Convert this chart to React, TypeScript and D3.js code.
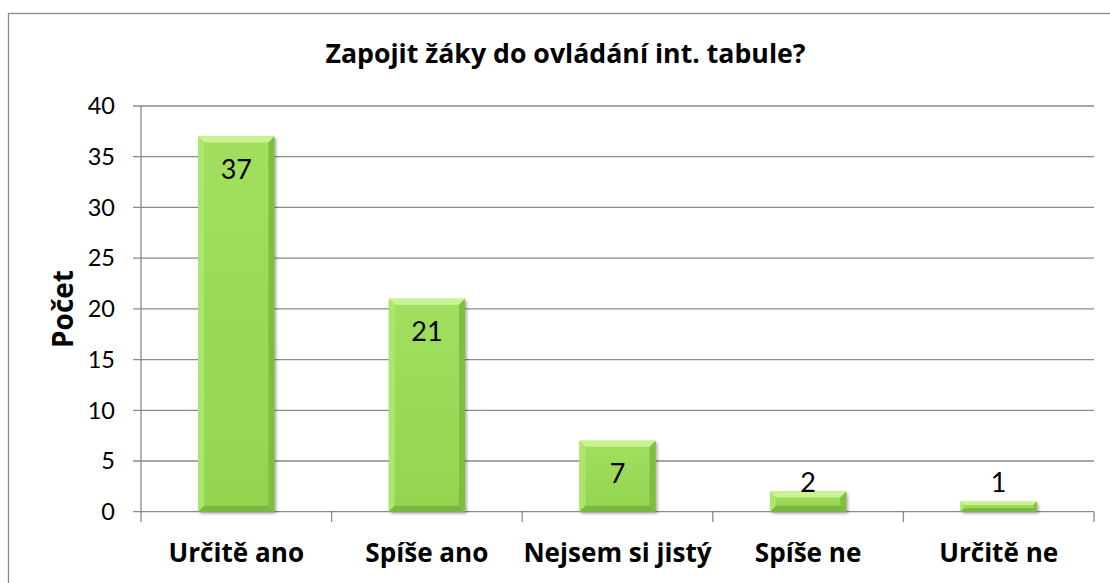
import React from "react";
import * as d3 from "d3";

const categories = ["Určitě ano", "Spíše ano", "Nejsem si jistý", "Spíše ne", "Určitě ne"];
const values = [37, 21, 7, 2, 1];
const yTicks = [0, 5, 10, 15, 20, 25, 30, 35, 40];
const title = "Zapojit žáky do ovládání int. tabule?";
const yTitle = "Počet";

const W = 1110;
const H = 583;
const left = 141;
const right = 1094;
const top = 106;
const bottom = 511.7;
const FONT = "Lato, Carlito, Calibri, sans-serif";
const BOLD = "'Open Sans', Lato, sans-serif";

export default function App() {
  const x = d3.scaleBand<string>().domain(categories).range([left, right]).paddingInner(0.6).paddingOuter(0.3);
  const y = d3.scaleLinear().domain([0, 40]).range([bottom, top]);
  const step = x.step();
  const bw = x.bandwidth();
  const grid = "#8a8a8a";

  return (
    <svg width={W} height={H} style={{ position: "absolute", left: 0, top: 0, background: "#fff" }} fontFamily={FONT}>
      <defs>
        <filter id="sh" x="-20%" y="-20%" width="140%" height="140%">
          <feGaussianBlur stdDeviation="1.5" />
        </filter>
        <linearGradient id="face" x1="0" y1="0" x2="0" y2="1">
          <stop offset="0" stopColor="#a2df5f" />
          <stop offset="1" stopColor="#92d450" />
        </linearGradient>
      </defs>
      <rect x={8.5} y={13.5} width={1300} height={800} fill="#fff" stroke={grid} strokeWidth={1.3} />
      <text x={565.5} y={63.3} textAnchor="middle" fontWeight="bold" fontFamily={BOLD} fontSize={26.7} fill="#000">{title}</text>

      {yTicks.map((t) => (
        <g key={t}>
          <line x1={133} x2={right} y1={y(t)} y2={y(t)} stroke={grid} strokeWidth={1.3} />
          <text x={115} y={y(t)} dy="0.35em" textAnchor="end" fontSize={23.5} fill="#000">{t}</text>
        </g>
      ))}
      <line x1={left} x2={left} y1={top} y2={bottom} stroke={grid} strokeWidth={1.3} />
      {d3.range(categories.length + 1).map((i) => (
        <line key={i} x1={left + i * step} x2={left + i * step} y1={bottom} y2={522} stroke={grid} strokeWidth={1.3} />
      ))}

      {categories.map((c, i) => {
        const v = values[i];
        const x0 = x(c)!;
        const y0 = y(v);
        const h = bottom - y0;
        const b = Math.min(6, h / 3);
        const x1 = x0 + bw;
        const y1 = bottom;
        const cx = x0 + bw / 2;
        const labelY = Math.min(y0 + 42.5, 491.5);
        return (
          <g key={c}>
            <rect x={x0 + 2} y={y0 + 2} width={bw} height={h} fill="#000" opacity={0.3} filter="url(#sh)" />
            <rect x={x0} y={y0} width={bw} height={h} fill="url(#face)" />
            <polygon points={`${x0},${y0} ${x1},${y0} ${x1 - b},${y0 + b} ${x0 + b},${y0 + b}`} fill="#cbf394" />
            <polygon points={`${x0},${y0} ${x0 + b},${y0 + b} ${x0 + b},${y1 - b} ${x0},${y1}`} fill="#ade66c" />
            <polygon points={`${x1},${y0} ${x1},${y1} ${x1 - b},${y1 - b} ${x1 - b},${y0 + b}`} fill="#7fbf3f" />
            <polygon points={`${x0},${y1} ${x0 + b},${y1 - b} ${x1 - b},${y1 - b} ${x1},${y1}`} fill="#79b83c" />
            <text x={cx} y={labelY} textAnchor="middle" fontSize={27} fill="#000">{v}</text>
          </g>
        );
      })}

      {categories.map((c) => (
        <text key={c} x={x(c)! + bw / 2} y={561.7} textAnchor="middle" fontWeight="bold" fontFamily={BOLD} fontSize={26.1} fill="#000">{c}</text>
      ))}

      <text transform={`translate(73,309) rotate(-90)`} textAnchor="middle" fontWeight="bold" fontFamily={BOLD} fontSize={28} fill="#000">{yTitle}</text>
    </svg>
  );
}
